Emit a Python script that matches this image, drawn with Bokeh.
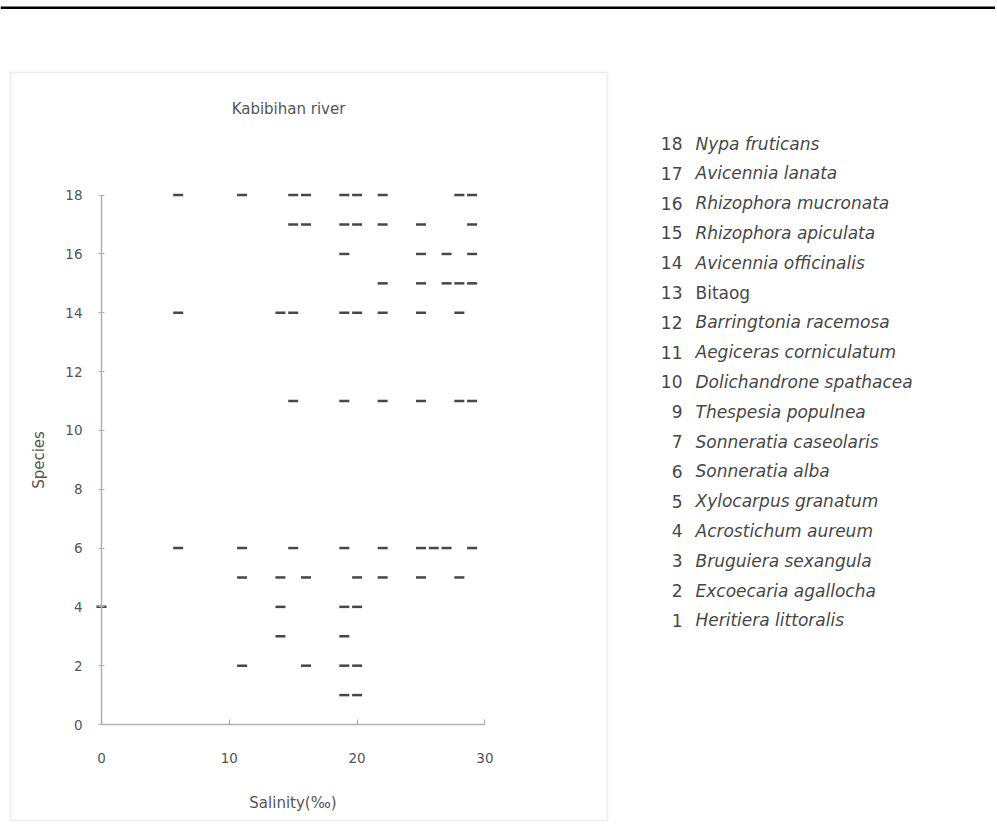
from bokeh.plotting import figure
from bokeh.models import Range1d, Label, BoxAnnotation, FixedTicker, ColumnDataSource
from bokeh.embed import file_html
from bokeh.resources import INLINE

# ---- data: salinity (per mille) at which each species was recorded ----
sal_18 = [6, 11, 15, 16, 19, 20, 22, 28, 29]
sal_17 = [15, 16, 19, 20, 22, 25, 29]
sal_16 = [19, 25, 27, 29]
sal_15 = [22, 25, 27, 28, 29]
sal_14 = [6, 14, 15, 19, 20, 22, 25, 28]
sal_11 = [15, 19, 22, 25, 28, 29]
sal_6 = [6, 11, 15, 19, 22, 25, 26, 27, 29]
sal_5 = [11, 14, 16, 20, 22, 25, 28]
sal_4 = [0, 14, 19, 20]
sal_3 = [14, 19]
sal_2 = [11, 16, 19, 20]
sal_1 = [19, 20]

species_ids = [18, 17, 16, 15, 14, 11, 6, 5, 4, 3, 2, 1]
species_sal = [sal_18, sal_17, sal_16, sal_15, sal_14, sal_11, sal_6, sal_5, sal_4, sal_3, sal_2, sal_1]

legend_numbers = ["18", "17", "16", "15", "14", "13", "12", "11", "10", "9", "7", "6", "5", "4", "3", "2", "1"]
legend_names = ["Nypa fruticans", "Avicennia lanata", "Rhizophora  mucronata", "Rhizophora  apiculata",
                "Avicennia officinalis", "Bitaog", "Barringtonia racemosa", "Aegiceras corniculatum",
                "Dolichandrone spathacea", "Thespesia populnea", "Sonneratia caseolaris", "Sonneratia alba",
                "Xylocarpus granatum", "Acrostichum aureum", "Bruguiera sexangula", "Excoecaria agallocha",
                "Heritiera littoralis"]
legend_italic = [n != "Bitaog" for n in legend_names]

x_ticks = [0, 10, 20, 30]
y_ticks = [0, 2, 4, 6, 8, 10, 12, 14, 16, 18]

title_text = "Kabibihan river"
x_label = "Salinity(\u2030)"
y_label = "Species"

xs, ys = [], []
for sid, vals in zip(species_ids, species_sal):
    for v in vals:
        xs.append(v)
        ys.append(sid)
src = ColumnDataSource(dict(x=xs, y=ys))

FONT = "DejaVu Sans"
W, H = 995, 823
X0, XU = 101.0, 12.78     # page x of salinity 0, px per unit
Y0, YU = 724.0, 29.41     # page y of species 0, px per unit

p = figure(width=W, height=H,
           x_range=Range1d(-X0 / XU, (W - X0) / XU),
           y_range=Range1d(-(H - Y0) / YU, Y0 / YU),
           output_backend="svg", toolbar_location=None,
           min_border_left=0, min_border_right=0, min_border_top=0, min_border_bottom=0)
p.xgrid.visible = False
p.ygrid.visible = False
p.outline_line_color = None
p.background_fill_color = "white"
p.border_fill_color = "white"

p.scatter(x="x", y="y", source=src, marker="dash", size=10, line_width=2.5, line_color="#474747")

# axes (drawn at the data origin)
p.xaxis.fixed_location = 0
p.yaxis.fixed_location = 0
p.xaxis.bounds = (0, 30)
p.yaxis.bounds = (0, 18)
p.xaxis.ticker = FixedTicker(ticks=x_ticks)
p.yaxis.ticker = FixedTicker(ticks=y_ticks)
p.xaxis.axis_label = x_label
p.yaxis.axis_label = y_label
for ax in (p.xaxis[0], p.yaxis[0]):
    ax.axis_line_color = "#b0b0b0"
    ax.axis_line_width = 1.5
    ax.major_tick_line_color = "#b0b0b0"
    ax.major_tick_line_width = 1.2
    ax.minor_tick_line_color = None
    ax.major_label_text_font = FONT
    ax.major_label_text_font_size = "13.5px"
    ax.major_label_text_color = "#555555"
    ax.axis_label_text_font = FONT
    ax.axis_label_text_font_size = "15px"
    ax.axis_label_text_font_style = "normal"
    ax.axis_label_text_color = "#555555"
p.xaxis.major_tick_in = 5
p.xaxis.major_tick_out = 0
p.xaxis.major_label_standoff = 28
p.xaxis.axis_label_standoff = 28
p.yaxis.major_tick_in = 3
p.yaxis.major_tick_out = 3
p.yaxis.major_label_standoff = 16
p.yaxis.axis_label_standoff = 14


def sy(page_y):
    return H - page_y


SCR = dict(left_units="screen", right_units="screen", top_units="screen", bottom_units="screen")

# top rule and panel border
p.add_layout(BoxAnnotation(left=0, right=W, top=sy(6), bottom=sy(8.5), fill_color="black",
                           fill_alpha=1, line_color=None, **SCR))
p.add_layout(BoxAnnotation(left=10, right=607, top=sy(72), bottom=sy(820), fill_alpha=0,
                           line_color="#c4c4c4", line_width=1.5, **SCR))

# chart title
p.add_layout(Label(x=288, y=sy(108), x_units="screen", y_units="screen", text=title_text,
                   text_font=FONT, text_font_size="15px", text_color="#555555",
                   text_align="center", text_baseline="middle"))

# species key
for i, (num, name, ital) in enumerate(zip(legend_numbers, legend_names, legend_italic)):
    yy = sy(143 + 29.8 * i)
    p.add_layout(Label(x=682, y=yy, x_units="screen", y_units="screen", text=num,
                       text_font=FONT, text_font_size="17px", text_color="#474747",
                       text_align="right", text_baseline="middle"))
    p.add_layout(Label(x=695, y=yy, x_units="screen", y_units="screen", text=name,
                       text_font=FONT, text_font_size="17px", text_color="#474747",
                       text_font_style="italic" if ital else "normal",
                       text_align="left", text_baseline="middle"))

open("out.html", "w").write(file_html(p, INLINE))
